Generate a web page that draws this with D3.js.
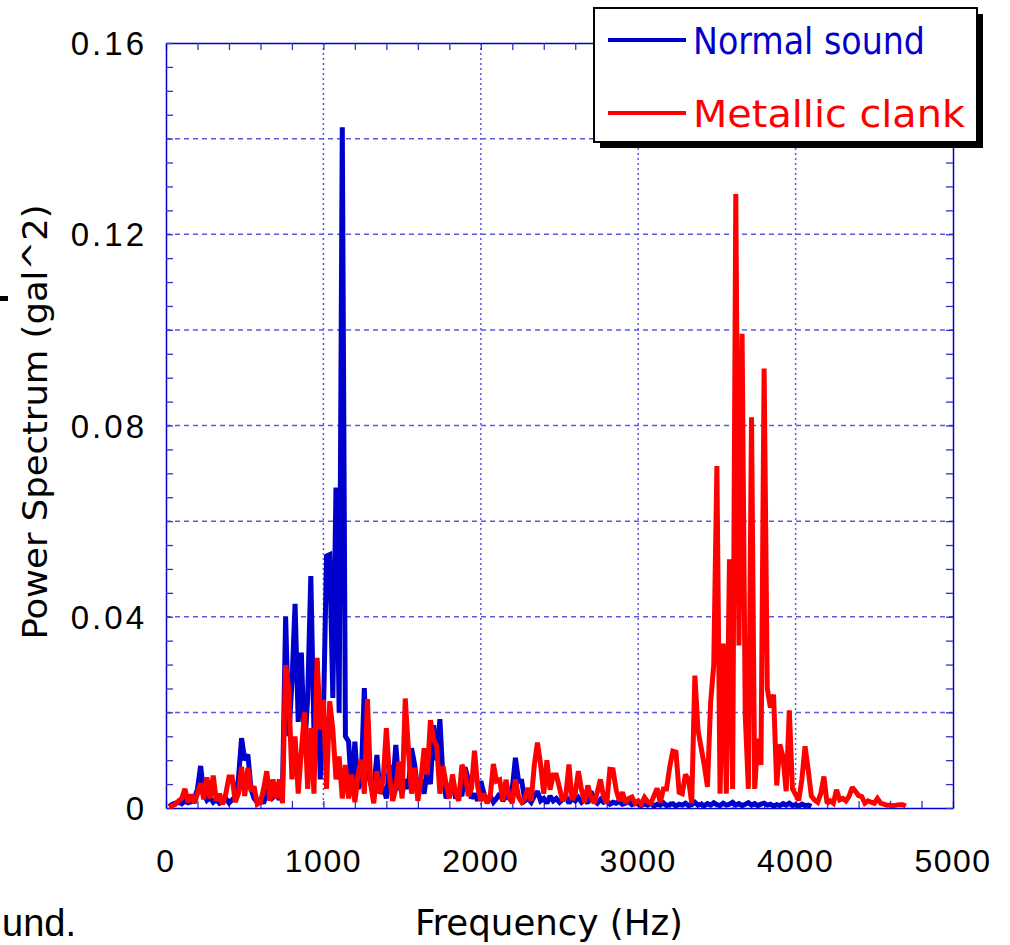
<!DOCTYPE html>
<html>
<head>
<meta charset="utf-8">
<script src="https://cdn.jsdelivr.net/npm/d3@7"></script>
<style>
  body { margin: 0; background: #fff; }
  svg { display: block; }
</style>
</head>
<body>
<div id="chart"></div>
<script>
// spectrum samples, one every 20 Hz starting at 20 Hz
var freqStart = 20;
var freqStep = 20;

var normalSound = [
  0.0003,0.0008,0.0010,0.0012,0.0009,0.0015,0.0011,0.0013,0.0018,0.0040,
  0.0088,0.0030,0.0016,0.0022,0.0012,0.0018,0.0010,0.0014,0.0020,0.0011,
  0.0017,0.0024,0.0060,0.0146,0.0100,0.0112,0.0040,0.0020,0.0012,0.0018,
  0.0010,0.0030,0.0052,0.0022,0.0028,0.0018,0.0035,0.0400,0.0150,0.0260,
  0.0427,0.0180,0.0325,0.0120,0.0230,0.0485,0.0160,0.0307,0.0060,0.0190,
  0.0527,0.0530,0.0230,0.0670,0.0200,0.1424,0.0150,0.0139,0.0030,0.0139,
  0.0040,0.0060,0.0251,0.0080,0.0050,0.0040,0.0111,0.0030,0.0045,0.0020,
  0.0090,0.0040,0.0132,0.0050,0.0030,0.0060,0.0040,0.0125,0.0090,0.0035,
  0.0060,0.0030,0.0080,0.0050,0.0173,0.0100,0.0186,0.0060,0.0020,0.0040,
  0.0056,0.0020,0.0035,0.0025,0.0085,0.0060,0.0020,0.0030,0.0015,0.0056,
  0.0030,0.0015,0.0025,0.0012,0.0020,0.0030,0.0015,0.0025,0.0020,0.0040,
  0.0105,0.0056,0.0056,0.0015,0.0020,0.0012,0.0025,0.0035,0.0015,0.0020,
  0.0010,0.0025,0.0015,0.0020,0.0012,0.0018,0.0025,0.0010,0.0020,0.0015,
  0.0022,0.0012,0.0018,0.0010,0.0035,0.0015,0.0010,0.0018,0.0012,0.0015,
  0.0008,0.0012,0.0010,0.0014,0.0008,0.0010,0.0013,0.0007,0.0010,0.0008,
  0.0005,0.0009,0.0006,0.0010,0.0004,0.0008,0.0006,0.0011,0.0005,0.0007,
  0.0009,0.0004,0.0008,0.0006,0.0010,0.0005,0.0007,0.0012,0.0006,0.0008,
  0.0005,0.0009,0.0006,0.0011,0.0007,0.0005,0.0010,0.0006,0.0008,0.0012,
  0.0006,0.0009,0.0005,0.0008,0.0011,0.0006,0.0009,0.0005,0.0008,0.0010,
  0.0006,0.0008,0.0004,0.0007,0.0005,0.0009,0.0006,0.0010,0.0005,0.0007,
  0.0004,0.0008,0.0005,0.0006,0.0003
];

var metallicClank = [
  0.0002,0.0005,0.0008,0.0015,0.0020,0.0040,0.0012,0.0028,0.0010,0.0030,
  0.0052,0.0018,0.0064,0.0020,0.0068,0.0015,0.0030,0.0008,0.0030,0.0065,
  0.0065,0.0012,0.0030,0.0086,0.0025,0.0084,0.0035,0.0045,0.0008,0.0012,
  0.0040,0.0077,0.0015,0.0060,0.0020,0.0060,0.0010,0.0299,0.0248,0.0060,
  0.0150,0.0030,0.0120,0.0200,0.0040,0.0167,0.0030,0.0314,0.0164,0.0227,
  0.0040,0.0223,0.0164,0.0060,0.0108,0.0020,0.0090,0.0020,0.0070,0.0012,
  0.0070,0.0101,0.0030,0.0228,0.0050,0.0010,0.0077,0.0030,0.0060,0.0167,
  0.0066,0.0015,0.0040,0.0097,0.0020,0.0229,0.0122,0.0030,0.0084,0.0015,
  0.0060,0.0125,0.0070,0.0184,0.0143,0.0130,0.0030,0.0087,0.0050,0.0020,
  0.0070,0.0030,0.0015,0.0090,0.0077,0.0025,0.0040,0.0120,0.0045,0.0015,
  0.0030,0.0010,0.0025,0.0092,0.0056,0.0059,0.0015,0.0059,0.0024,0.0010,
  0.0060,0.0023,0.0012,0.0020,0.0042,0.0015,0.0090,0.0137,0.0091,0.0030,
  0.0100,0.0038,0.0069,0.0069,0.0042,0.0015,0.0025,0.0091,0.0017,0.0030,
  0.0077,0.0038,0.0012,0.0047,0.0023,0.0010,0.0033,0.0060,0.0023,0.0010,
  0.0081,0.0080,0.0038,0.0015,0.0033,0.0010,0.0020,0.0023,0.0010,0.0015,
  0.0008,0.0022,0.0013,0.0010,0.0025,0.0041,0.0012,0.0040,0.0040,0.0085,
  0.0119,0.0117,0.0033,0.0030,0.0070,0.0060,0.0010,0.0277,0.0163,0.0126,
  0.0089,0.0044,0.0220,0.0300,0.0715,0.0030,0.0344,0.0030,0.0520,0.0040,
  0.1284,0.0340,0.0992,0.0195,0.0040,0.0817,0.0040,0.0145,0.0090,0.0919,
  0.0250,0.0210,0.0237,0.0047,0.0133,0.0107,0.0035,0.0204,0.0040,0.0028,
  0.0016,0.0060,0.0129,0.0080,0.0025,0.0017,0.0012,0.0030,0.0066,0.0010,
  0.0015,0.0010,0.0038,0.0017,0.0020,0.0015,0.0025,0.0043,0.0035,0.0026,
  0.0024,0.0010,0.0015,0.0012,0.0010,0.0020,0.0010,0.0008,0.0006,0.0006,
  0.0005,0.0006,0.0007,0.0007,0.0004
];

var seriesNames = ["Normal sound", "Metallic clank"];
var seriesColors = ["#0000cc", "#ff0000"];
var xTickLabels = [0, 1000, 2000, 3000, 4000, 5000];
var yTickLabels = [0, 0.04, 0.08, 0.12, 0.16];
var xGridValues = [1000, 2000, 3000, 4000];
var yGridValues = [0.02, 0.04, 0.06, 0.08, 0.10, 0.12, 0.14];

var W = 1010, H = 945;
var margin = { top: 43, right: 57, bottom: 137, left: 166 };
var width = W - margin.left - margin.right;
var height = H - margin.top - margin.bottom;

var svg = d3.select("#chart")
  .append("svg")
    .attr("width", W)
    .attr("height", H)
    .style("background", "white");

var g = svg.append("g")
    .attr("transform", "translate(" + margin.left + "," + margin.top + ")");

var x = d3.scaleLinear().domain([0, 5000]).range([0, width]);
var y = d3.scaleLinear().domain([0, 0.16]).range([height, 0]);

// grid
g.selectAll(".hgrid")
  .data(yGridValues)
  .enter().append("line")
    .attr("x1", 0).attr("x2", width)
    .attr("y1", function(d) { return y(d); })
    .attr("y2", function(d) { return y(d); })
    .attr("stroke", "#5a5ae0")
    .attr("stroke-width", 1.5)
    .attr("stroke-dasharray", "5,4");

g.selectAll(".vgrid")
  .data(xGridValues)
  .enter().append("line")
    .attr("y1", 0).attr("y2", height)
    .attr("x1", function(d) { return x(d); })
    .attr("x2", function(d) { return x(d); })
    .attr("stroke", "#5a5ae0")
    .attr("stroke-width", 1.5)
    .attr("stroke-dasharray", "2,3");

// minor ticks, pointing inward on all four sides
var xMinor = d3.range(0, 5001, 200);
var yMinor = d3.range(0, 0.1601, 0.005);

function styleAxis(sel) {
  sel.selectAll(".tick line").attr("stroke", "#3030d0").attr("stroke-width", 1.3);
  sel.select(".domain").attr("stroke", "#0000cc").attr("stroke-width", 1.5);
}

g.append("g")
  .attr("transform", "translate(0," + height + ")")
  .call(d3.axisBottom(x).tickValues(xMinor).tickSize(-7).tickSizeOuter(0).tickFormat(""))
  .call(styleAxis);
g.append("g")
  .call(d3.axisTop(x).tickValues(xMinor).tickSize(-7).tickSizeOuter(0).tickFormat(""))
  .call(styleAxis);
g.append("g")
  .call(d3.axisLeft(y).tickValues(yMinor).tickSize(-7).tickSizeOuter(0).tickFormat(""))
  .call(styleAxis);
g.append("g")
  .attr("transform", "translate(" + width + ",0)")
  .call(d3.axisRight(y).tickValues(yMinor).tickSize(-7).tickSizeOuter(0).tickFormat(""))
  .call(styleAxis);

// series lines
var line = d3.line()
  .x(function(d, i) { return x(freqStart + i * freqStep); })
  .y(function(d) { return y(d); });

[normalSound, metallicClank].forEach(function(s, k) {
  g.append("path")
    .datum(s)
    .attr("fill", "none")
    .attr("stroke", seriesColors[k])
    .attr("stroke-width", 5)
    .attr("stroke-linejoin", "miter")
    .attr("stroke-miterlimit", 2)
    .attr("d", line);
});

// tick labels
var tickFont = "'Liberation Sans', Arial, sans-serif";
g.selectAll(".xlab")
  .data(xTickLabels)
  .enter().append("text")
    .attr("x", function(d) { return x(d); })
    .attr("y", height + 64)
    .attr("text-anchor", "middle")
    .style("font-family", tickFont)
    .style("font-size", "32px")
    .style("letter-spacing", "1.5px")
    .text(function(d) { return d; });

g.selectAll(".ylab")
  .data(yTickLabels)
  .enter().append("text")
    .attr("x", -19)
    .attr("y", function(d) { return y(d) + 12; })
    .attr("text-anchor", "end")
    .style("font-family", tickFont)
    .style("font-size", "33px")
    .style("letter-spacing", "3px")
    .text(function(d) { return d === 0 ? "0" : d.toFixed(2); });

// axis titles
var titleFont = "'Liberation Sans Narrow', 'DejaVu Sans Condensed', 'DejaVu Sans', sans-serif";
svg.append("text")
  .attr("x", 549)
  .attr("y", 935)
  .attr("text-anchor", "middle")
  .attr("textLength", 268)
  .attr("lengthAdjust", "spacingAndGlyphs")
  .style("font-family", titleFont)
  .style("font-stretch", "condensed")
  .style("font-size", "36px")
  .text("Frequency (Hz)");

svg.append("text")
  .attr("transform", "translate(47,422) rotate(-90)")
  .attr("text-anchor", "middle")
  .attr("textLength", 435)
  .attr("lengthAdjust", "spacingAndGlyphs")
  .style("font-family", titleFont)
  .style("font-stretch", "condensed")
  .style("font-size", "34px")
  .text("Power Spectrum (gal^2)");

// legend
var legend = svg.append("g");
legend.append("rect")
  .attr("x", 600).attr("y", 14).attr("width", 383).attr("height", 134)
  .attr("fill", "#000");
legend.append("rect")
  .attr("x", 594).attr("y", 8).attr("width", 383).attr("height", 134)
  .attr("fill", "#fff").attr("stroke", "#000").attr("stroke-width", 2);

var legendRows = [
  { y: 40, textLen: 232 },
  { y: 113, textLen: 272 }
];
seriesNames.forEach(function(name, k) {
  legend.append("line")
    .attr("x1", 608).attr("x2", 686)
    .attr("y1", legendRows[k].y).attr("y2", legendRows[k].y)
    .attr("stroke", seriesColors[k]).attr("stroke-width", 4);
  legend.append("text")
    .attr("x", 693)
    .attr("y", legendRows[k].y + 14)
    .attr("textLength", legendRows[k].textLen)
    .attr("lengthAdjust", "spacingAndGlyphs")
    .attr("fill", seriesColors[k])
    .style("font-family", titleFont)
    .style("font-stretch", "condensed")
    .style("font-size", "38px")
    .text(name);
});

// cropped page fragments around the figure
svg.append("rect").attr("x", 0).attr("y", 296).attr("width", 8).attr("height", 5).attr("fill", "#000");
svg.append("text")
  .attr("x", 2).attr("y", 936)
  .style("font-family", tickFont)
  .style("font-size", "38px")
  .text("und.");
</script>
</body>
</html>
